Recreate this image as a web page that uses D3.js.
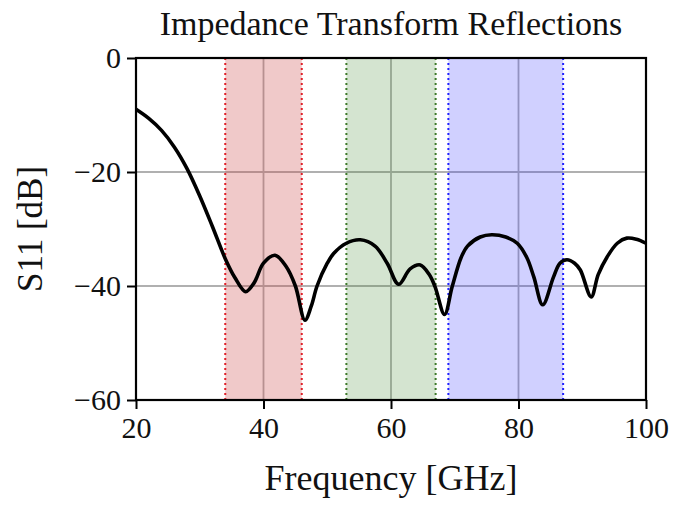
<!DOCTYPE html>
<html>
<head>
<meta charset="utf-8">
<script src="https://cdn.jsdelivr.net/npm/d3@7"></script>
<style>
    body { margin: 0; background: #fff; }
    svg text { font-family: "Liberation Serif", "DejaVu Serif", serif; fill: #111; }
</style>
</head>
<body>
<div class="chart"></div>
<script>
// curve: frequency [GHz] and S11 [dB]
var freq = [20, 22, 24, 26, 28, 30, 32, 34, 35.5, 37.2, 38.5, 40, 41.8, 43.5, 45, 46.5, 47.5, 48.4, 50, 51, 53, 55.2, 57.5, 59.4, 61.2, 63, 64.6, 66, 66.9, 68.4, 69.6, 71, 72, 74, 75.8, 78, 79.8, 81.3, 82.4, 83.8, 85.5, 86.5, 87.6, 88.8, 89.7, 91.4, 92.5, 93.9, 95.5, 97, 98.5, 100];
var s11 = [-9, -10.6, -12.7, -15.6, -19.4, -24.2, -29.6, -35.2, -38.5, -41, -39.5, -36, -34.6, -36.5, -40, -46, -43.5, -40, -36, -34.3, -32.5, -31.9, -33, -36, -39.7, -37, -36.3, -38, -40.1, -45, -40.1, -35, -33, -31.4, -31, -31.4, -32.5, -35, -38.4, -43.3, -38.4, -36, -35.4, -36, -37.2, -41.9, -38, -34.9, -32.5, -31.6, -31.8, -32.5];

// shaded frequency bands
var bandStart = [34, 53, 69];
var bandEnd = [46, 67, 87];
var bandFill = ["rgba(200,60,60,0.28)", "rgba(60,130,40,0.22)", "rgba(40,40,255,0.22)"];
var bandEdge = ["#e0202a", "#3d7a2a", "#2020ff"];

var xTicks = [20, 40, 60, 80, 100];
var yTicks = [0, -20, -40, -60];

var width = 673, height = 510;
var margin = { left: 136, right: 27, top: 58, bottom: 110 };

var svg = d3.select(".chart").append("svg")
    .attr("width", width)
    .attr("height", height);

var x = d3.scaleLinear().domain([20, 100]).range([margin.left, width - margin.right]);
var y = d3.scaleLinear().domain([-60, 0]).range([height - margin.bottom, margin.top]);

/*
    Grid
*/
svg.append("g").selectAll("line").data(xTicks.slice(1, -1)).enter().append("line")
    .attr("x1", function (d) { return x(d); })
    .attr("x2", function (d) { return x(d); })
    .attr("y1", y(0))
    .attr("y2", y(-60))
    .attr("stroke", "#b0b0b0")
    .attr("stroke-width", 1.8);
svg.append("g").selectAll("line").data(yTicks.slice(1, -1)).enter().append("line")
    .attr("x1", x(20))
    .attr("x2", x(100))
    .attr("y1", function (d) { return y(d); })
    .attr("y2", function (d) { return y(d); })
    .attr("stroke", "#b0b0b0")
    .attr("stroke-width", 1.8);

/*
    Bands
*/
var bands = svg.append("g").selectAll("g").data(bandStart).enter().append("g");
bands.append("rect")
    .attr("x", function (d) { return x(d); })
    .attr("y", y(0))
    .attr("width", function (d, i) { return x(bandEnd[i]) - x(d); })
    .attr("height", y(-60) - y(0))
    .attr("fill", function (d, i) { return bandFill[i]; });
[bandStart, bandEnd].forEach(function (edges) {
    bands.append("line")
        .attr("x1", function (d, i) { return x(edges[i]); })
        .attr("x2", function (d, i) { return x(edges[i]); })
        .attr("y1", y(0))
        .attr("y2", y(-60))
        .attr("stroke", function (d, i) { return bandEdge[i]; })
        .attr("stroke-width", 2)
        .attr("stroke-dasharray", "2,3");
});

/*
    Curve
*/
var line = d3.line()
    .x(function (d, i) { return x(freq[i]); })
    .y(function (d) { return y(d); })
    .curve(d3.curveCatmullRom.alpha(0.5));
svg.append("path")
    .datum(s11)
    .attr("d", line)
    .attr("fill", "none")
    .attr("stroke", "#000")
    .attr("stroke-width", 3.6)
    .attr("stroke-linejoin", "round");

/*
    Axes
*/
var xAxis = svg.append("g")
    .attr("transform", "translate(0," + y(-60) + ")")
    .call(d3.axisBottom(x).tickValues(xTicks).tickSize(9).tickPadding(8));
var yAxis = svg.append("g")
    .attr("transform", "translate(" + x(20) + ",0)")
    .call(d3.axisLeft(y).tickValues(yTicks).tickSize(9).tickPadding(6)
        .tickFormat(function (d) { return d < 0 ? "\u2212" + (-d) : d; }));
[xAxis, yAxis].forEach(function (a) {
    a.select(".domain").remove();
    a.selectAll("line").attr("stroke", "#000").attr("stroke-width", 2);
    a.selectAll("text").attr("font-size", 30).attr("font-family", "Liberation Serif").attr("fill", "#111");
});

svg.append("rect")
    .attr("x", x(20))
    .attr("y", y(0))
    .attr("width", x(100) - x(20))
    .attr("height", y(-60) - y(0))
    .attr("fill", "none")
    .attr("stroke", "#000")
    .attr("stroke-width", 2.2);

/*
    Labels
*/
svg.append("text")
    .attr("x", (x(20) + x(100)) / 2)
    .attr("y", 35)
    .attr("text-anchor", "middle")
    .attr("font-size", 34)
    .text("Impedance Transform Reflections");
svg.append("text")
    .attr("x", (x(20) + x(100)) / 2)
    .attr("y", 490)
    .attr("text-anchor", "middle")
    .attr("font-size", 36)
    .text("Frequency [GHz]");
svg.append("text")
    .attr("transform", "translate(42," + (y(0) + y(-60)) / 2 + ") rotate(-90)")
    .attr("text-anchor", "middle")
    .attr("font-size", 35)
    .text("S11 [dB]");
</script>
</body>
</html>
